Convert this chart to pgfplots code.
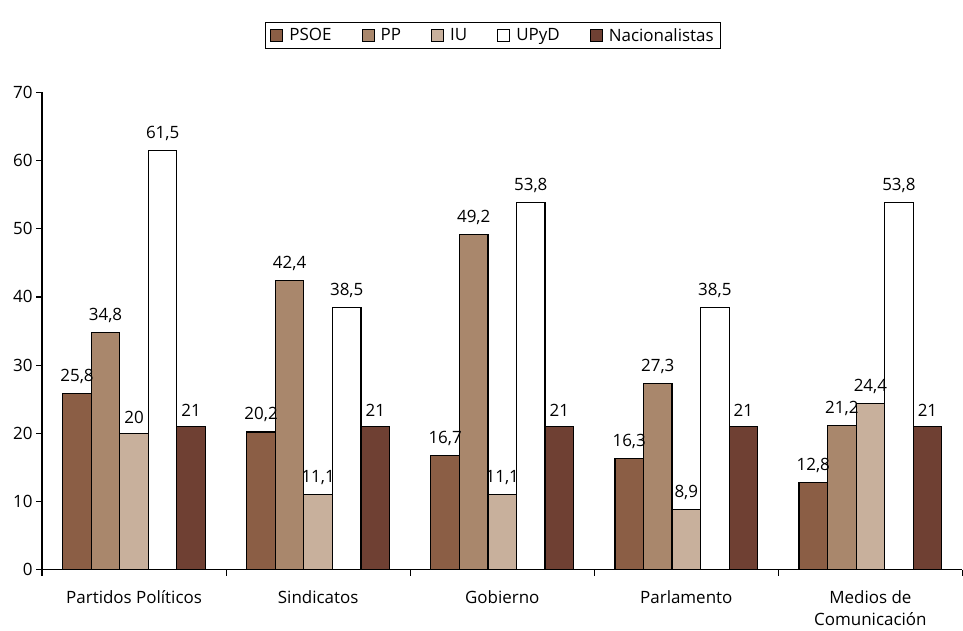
\documentclass[border=0pt]{standalone}
\usepackage{fontspec}
\setmainfont{Open Sans}
\usepackage{pgfplots}
\pgfplotsset{compat=1.18}
\definecolor{cpsoe}{HTML}{8B5E45}
\definecolor{cpp}{HTML}{A9876C}
\definecolor{ciu}{HTML}{C8B09C}
\definecolor{cnac}{HTML}{6F4033}

\begin{document}
\begin{tikzpicture}
\begin{axis}[
    scale only axis,
    width=919bp, height=477bp,
    ybar=0pt, bar width=28.5bp,
    xmin=-0.5, xmax=4.5,
    ymin=0, ymax=70,
    ytick={0,10,...,70},
    xtick={0,1,2,3,4},
    xticklabels={Partidos Políticos,Sindicatos,Gobierno,Parlamento,{Medios de\\Comunicación}},
    minor xtick={-0.5,0.5,...,4.5},
    major x tick style={draw=none},
    minor tick length=6bp,
    major tick length=6bp,
    tick align=outside,
    axis x line*=bottom, axis y line*=left,
    axis line style={line width=1.2bp, -},
    every tick/.style={line width=1.2bp, black},
    x tick label style={align=center, text depth=0.3ex, yshift=-11bp},
    tick label style={font=\fontsize{17}{22}\selectfont},
    /pgf/number format/assume math mode=true,
    /pgf/number format/use comma,
    nodes near coords,
    every node near coord/.append style={font=\fontsize{17}{20}\selectfont, yshift=6bp},
    legend style={at={(0.49,1.09)}, anchor=south, legend columns=-1,
        draw=black, line width=1.2bp, font=\fontsize{17}{20}\selectfont,
        inner ysep=4bp, inner xsep=5bp,
        /tikz/every odd column/.append style={column sep=4bp},
        /tikz/every even column/.append style={column sep=28bp}},
    legend image code/.code={\draw[#1, line width=1bp] (0bp,-6bp) rectangle (12bp,6bp);},
    clip=false,
]
\addplot[fill=cpsoe, draw=black, line width=1.1bp] coordinates {(0,25.8) (1,20.2) (2,16.7) (3,16.3) (4,12.8)};
\addplot[fill=cpp, draw=black, line width=1.1bp] coordinates {(0,34.8) (1,42.4) (2,49.2) (3,27.3) (4,21.2)};
\addplot[fill=ciu, draw=black, line width=1.1bp] coordinates {(0,20) (1,11.1) (2,11.1) (3,8.9) (4,24.4)};
\addplot[fill=white, draw=black, line width=1.1bp] coordinates {(0,61.5) (1,38.5) (2,53.8) (3,38.5) (4,53.8)};
\addplot[fill=cnac, draw=black, line width=1.1bp] coordinates {(0,21) (1,21) (2,21) (3,21) (4,21)};
\legend{PSOE,PP,IU,UPyD,Nacionalistas}
\path (rel axis cs:-0.0457,-0.1216) rectangle (rel axis cs:1.0,1.193);
\end{axis}
\end{tikzpicture}
\end{document}
